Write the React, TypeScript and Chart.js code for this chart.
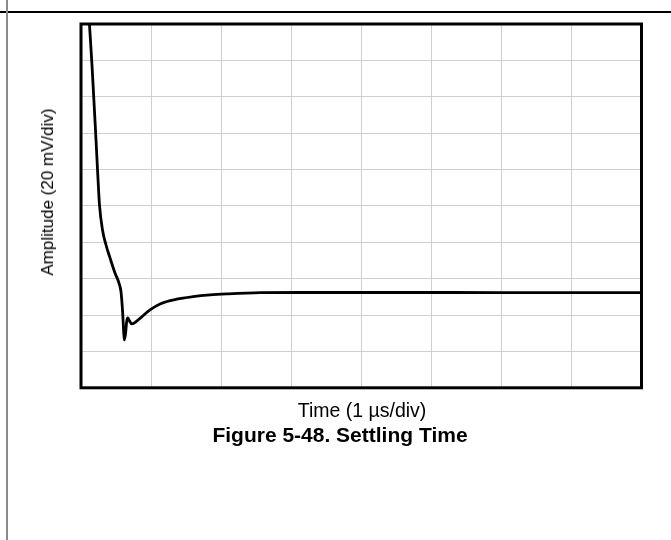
import React, { useEffect, useRef } from "react";
import { Chart, registerables } from "chart.js";

Chart.register(...registerables);

// Time in µs (1 µs/div), amplitude in mV (20 mV/div)
const timeUs = [
  0.117, 0.157, 0.207, 0.236, 0.264, 0.307, 0.357, 0.414, 0.485, 0.542, 0.571,
  0.594, 0.609, 0.619, 0.637, 0.651, 0.667, 0.692, 0.724, 0.771, 0.842, 0.985,
  1.128, 1.366, 1.599, 1.841, 2.08, 2.555, 3.126, 4.55, 5.98, 8.0,
];
const amplitudeMv = [
  102.1, 77.4, 41.7, 19.7, 0.5, -13.2, -21.5, -28.6, -36.9, -42.4, -47.3,
  -58.3, -69.2, -73.7, -69.8, -63.8, -61.6, -63.2, -64.9, -64.1, -61.8, -57.2,
  -53.9, -51.3, -49.9, -48.96, -48.4, -47.7, -47.6, -47.6, -47.65, -47.7,
];

const xMin = 0;
const xMax = 8;
const xStep = 1;
const yMin = -100;
const yMax = 100;
const yStep = 20;

const xTitle = "Time (1 µs/div)";
const yTitle = "Amplitude (20 mV/div)";
const figureTitle = "Figure 5-48. Settling Time";

const framePlugin = {
  id: "frame",
  afterDraw(chart: any) {
    const { ctx, chartArea } = chart;
    ctx.save();
    ctx.strokeStyle = "#000";
    ctx.lineWidth = 3;
    ctx.strokeRect(
      chartArea.left,
      chartArea.top,
      chartArea.right - chartArea.left,
      chartArea.bottom - chartArea.top
    );
    ctx.restore();
  },
};

export default function App() {
  const ref = useRef<HTMLCanvasElement | null>(null);

  useEffect(() => {
    if (!ref.current) return;
    const chart = new Chart(ref.current, {
      type: "line",
      data: {
        datasets: [
          {
            data: timeUs.map((x, i) => ({ x, y: amplitudeMv[i] })),
            borderColor: "#000",
            borderWidth: 2.8,
            pointRadius: 0,
            cubicInterpolationMode: "monotone",
            fill: false,
          },
        ],
      },
      options: {
        animation: false,
        responsive: false,
        maintainAspectRatio: false,
        layout: { padding: { left: 81, top: 24, right: 29.5, bottom: 152.2 } },
        plugins: { legend: { display: false }, tooltip: { enabled: false } },
        scales: {
          x: {
            type: "linear",
            min: xMin,
            max: xMax,
            ticks: { display: false, stepSize: xStep },
            grid: { color: "#cfcfcf", lineWidth: 1, drawTicks: false },
            border: { display: false },
          },
          y: {
            type: "linear",
            min: yMin,
            max: yMax,
            ticks: { display: false, stepSize: yStep },
            grid: { color: "#cfcfcf", lineWidth: 1, drawTicks: false },
            border: { display: false },
          },
        },
      },
      plugins: [framePlugin],
    });
    return () => chart.destroy();
  }, []);

  const font = '"Liberation Sans", Arial, sans-serif';

  return (
    <div
      style={{
        position: "fixed",
        left: 0,
        top: 0,
        width: 671,
        height: 540,
        background: "#fff",
        overflow: "hidden",
        fontFamily: font,
      }}
    >
      <div style={{ position: "absolute", left: 0, top: 11, width: 671, height: 1.5, background: "#000" }} />
      <div style={{ position: "absolute", left: 6, top: 0, width: 2, height: 540, background: "#8a8a8a" }} />
      <canvas ref={ref} width={671} height={540} style={{ position: "absolute", left: 0, top: 0, width: 671, height: 540 }} />
      <div
        style={{
          position: "absolute",
          left: 48,
          top: 192,
          transform: "translate(-50%, -50%) rotate(-90deg)",
          whiteSpace: "nowrap",
          fontSize: 17,
          color: "#000",
        }}
      >
        {yTitle}
      </div>
      <div
        style={{
          position: "absolute",
          left: 362,
          top: 410,
          transform: "translate(-50%, -50%)",
          whiteSpace: "nowrap",
          fontSize: 19.5,
          color: "#000",
        }}
      >
        {xTitle}
      </div>
      <div
        style={{
          position: "absolute",
          left: 340,
          top: 435,
          transform: "translate(-50%, -50%)",
          whiteSpace: "nowrap",
          fontSize: 21,
          fontWeight: "bold",
          color: "#000",
        }}
      >
        {figureTitle}
      </div>
    </div>
  );
}
